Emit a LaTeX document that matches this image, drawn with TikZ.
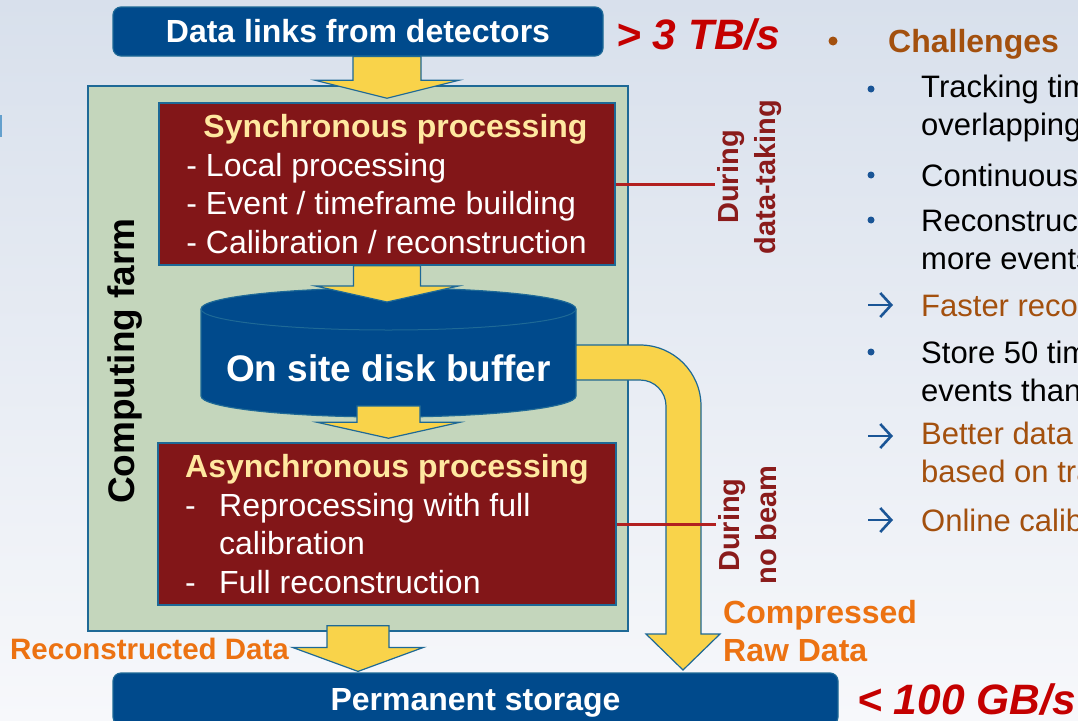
\documentclass[tikz,border=0pt]{standalone}
\usepackage{fontspec}
\setmainfont{Liberation Sans}
\usetikzlibrary{calc,arrows.meta}
\definecolor{boxblue}{RGB}{0,74,140}
\definecolor{edgeblue}{RGB}{30,105,150}
\definecolor{farmgreen}{RGB}{196,214,188}
\definecolor{procred}{RGB}{130,22,24}
\definecolor{headyellow}{RGB}{255,232,160}
\definecolor{arrowyellow}{RGB}{249,211,74}
\definecolor{dataorange}{RGB}{236,114,18}
\definecolor{ratered}{RGB}{196,0,0}
\definecolor{phasered}{RGB}{138,27,27}
\definecolor{tickred}{RGB}{178,32,32}
\definecolor{notebrown}{RGB}{163,80,14}
\definecolor{markblue}{RGB}{26,85,150}
\definecolor{sliverblue}{RGB}{100,160,205}
\definecolor{bgtop}{RGB}{216,224,236}
\definecolor{bgbottom}{RGB}{247,248,251}
\newcommand{\fsz}[2]{\fontsize{#1pt}{#2pt}\selectfont}
\newcommand{\prochead}[1]{{\color{headyellow}\bfseries #1}}
\tikzset{
  bluebox/.style={draw=edgeblue, line width=1.2pt, fill=boxblue, rounded corners=8pt,
    text=white, font=\fsz{32}{38.4}\bfseries},
  farmbox/.style={draw=edgeblue, line width=1.5pt, fill=farmgreen},
  procbox/.style={draw=edgeblue, line width=1.5pt, fill=procred, text=white,
    align=left, inner sep=0pt, font=\fsz{32}{38.4}},
  diskshape/.style={draw=edgeblue, line width=1.2pt, fill=boxblue},
  yellow arrow/.style={draw=edgeblue, line width=1.2pt, fill=arrowyellow, line join=miter},
  fat arrow/.style args={#1/#2/#3}{
    yellow arrow,
    to path={let \p1=(\tikztostart), \p2=(\tikztotarget) in
      (\x1-#1,\y1) -- (\x1-#1,\y2+#3) -- (\x1-#2,\y2+#3) -- (\x1,\y2)
      -- (\x1+#2,\y2+#3) -- (\x1+#1,\y2+#3) -- (\x1+#1,\y1) -- cycle}
  },
  farm label/.style={rotate=90, font=\fsz{37}{44}\bfseries},
  disk label/.style={text=white, font=\fsz{37}{44}\bfseries},
  phase tick/.style={draw=tickred, line width=3pt},
  phase label/.style={rotate=90, align=center, text=phasered, inner sep=3pt,
    font=\fsz{29}{37}\bfseries},
  data label/.style={text=dataorange, inner sep=0pt, font=\fsz{32}{38.4}\bfseries},
  rate label/.style={text=ratered, inner sep=0pt, anchor=base west,
    font=\fsz{42.5}{50}\bfseries\itshape},
  note/.style={anchor=west, align=left, inner sep=0pt, font=\fsz{31}{38}},
  note dot/.style={circle, fill=markblue, inner sep=0pt, minimum size=7pt},
  note arrow/.style={markblue, line width=2.6pt, -{Straight Barb[length=11pt,width=24pt]}},
}
\begin{document}
\begin{tikzpicture}[x=1pt,y=-1pt]
  \useasboundingbox (0,0) rectangle (1078,720);
  \shade[top color=bgtop, bottom color=bgbottom] (0,0) rectangle (1078,720);
  \fill[sliverblue] (0,115) rectangle (1.5,137);

  % data flow
  \node[bluebox, minimum width=490pt, minimum height=49pt] (links) at (358,31.5) {Data links from detectors};
  \node[farmbox, minimum width=540pt, minimum height=545pt] (farm) at (358,358.5) {};
  \node[farm label] (farmlbl) at (125,361) {Computing farm};
  \node[procbox, minimum width=456pt, minimum height=162pt] (sync) at (387,184)
    {\hspace*{17pt}\prochead{Synchronous processing}\\- Local processing\\- Event / timeframe building\\- Calibration / reconstruction};
  \node[procbox, minimum width=458pt, minimum height=162pt] (async) at (387,524)
    {\prochead{Asynchronous processing}\\\makebox[34pt][l]{-}Reprocessing with full\\\hspace*{34pt}calibration\\\makebox[34pt][l]{-}Full reconstruction};
  \draw[diskshape] (201,309) -- (201,396) arc[start angle=180,end angle=360,x radius=187.5pt,y radius=21pt]
    -- (576,309) arc[start angle=0,end angle=180,x radius=187.5pt,y radius=21pt] -- cycle;
  \draw[edgeblue, line width=1pt] (201,309) arc[start angle=180,end angle=360,x radius=187.5pt,y radius=21pt];
  \coordinate (disktop) at (388.5,288);
  \coordinate (diskbot) at (388.5,417);
  \node[disk label] (disk) at (388.5,368) {On site disk buffer};
  \node[bluebox, minimum width=725pt, minimum height=52pt, text depth=0pt] (store) at (475.5,699) {Permanent storage};

  \draw[fat arrow=34pt/72pt/18pt] (sync.north |- links.south) to ([yshift=4pt]sync.north);
  \draw[fat arrow=33.5pt/71.5pt/16pt] (sync.south) to ([yshift=-14pt]disktop);
  \draw[fat arrow=31.5pt/71.5pt/16pt] ([yshift=11pt]diskbot) to ([yshift=4pt]async.north);
  \draw[fat arrow=31pt/65.5pt/24pt] ([yshift=6pt]farm.south) to ([yshift=1pt]farm.south |- store.north);
  \draw[yellow arrow] (576,345) -- (640,345) arc[start angle=90,end angle=0,radius=61pt]
    -- (701,634) -- (720,634) -- (683,670) -- (646,634) -- (666,634) -- (666,406)
    arc[start angle=0,end angle=90,radius=26pt] -- (576,380) -- cycle;

  \node[phase label] (takinglbl) at (750,177) {During\\data-taking};
  \node[phase label] (beamlbl) at (748,525) {During\\no beam};
  \draw[phase tick] (sync.east) -- (sync.east -| takinglbl.north);
  \draw[phase tick] (async.east) -- (async.east -| beamlbl.north);

  \node[data label, anchor=base west, font=\fsz{29.5}{36}\bfseries] (recolbl) at (10,659) {Reconstructed Data};
  \node[data label, anchor=north west, align=left] (rawlbl) at (723,600) {Compressed\\Raw Data};
  \node[rate label] (inrate) at (616,49) {> 3 TB/s};
  \node[rate label] (outrate) at (857,714) {< 100 GB/s};

  % challenges list
  \node[circle, fill=notebrown, minimum size=9pt, inner sep=0pt] (topdot) at (833,41) {};
  \node[anchor=base west, inner sep=0pt, text=notebrown, font=\fsz{32}{38}\bfseries] (challenges) at (888,52) {Challenges};
  \node[note] (n1) at (921,108) {Tracking time\\overlapping};
  \node[note] (n2) at (921,175) {Continuous};
  \node[note] (n3) at (921,239) {Reconstruction\\more events};
  \node[note, text=notebrown] (n4) at (921,305) {Faster reconstruction};
  \node[note] (n5) at (921,371) {Store 50 times\\events than};
  \node[note, text=notebrown] (n6) at (921,455) {Better data\\based on tracking};
  \node[note, text=notebrown] (n7) at (921,520) {Online calibration};
  \foreach \y in {89,175,220,352}
    \node[note dot] (dot\y) at (871,\y) {};
  \draw[note arrow] ([xshift=-53pt]n4.west) -- ([xshift=-28pt]n4.west);
  \draw[note arrow] ([xshift=-53pt,yshift=19pt]n6.west) -- ([xshift=-28pt,yshift=19pt]n6.west);
  \draw[note arrow] ([xshift=-53pt]n7.west) -- ([xshift=-28pt]n7.west);
\end{tikzpicture}
\end{document}
